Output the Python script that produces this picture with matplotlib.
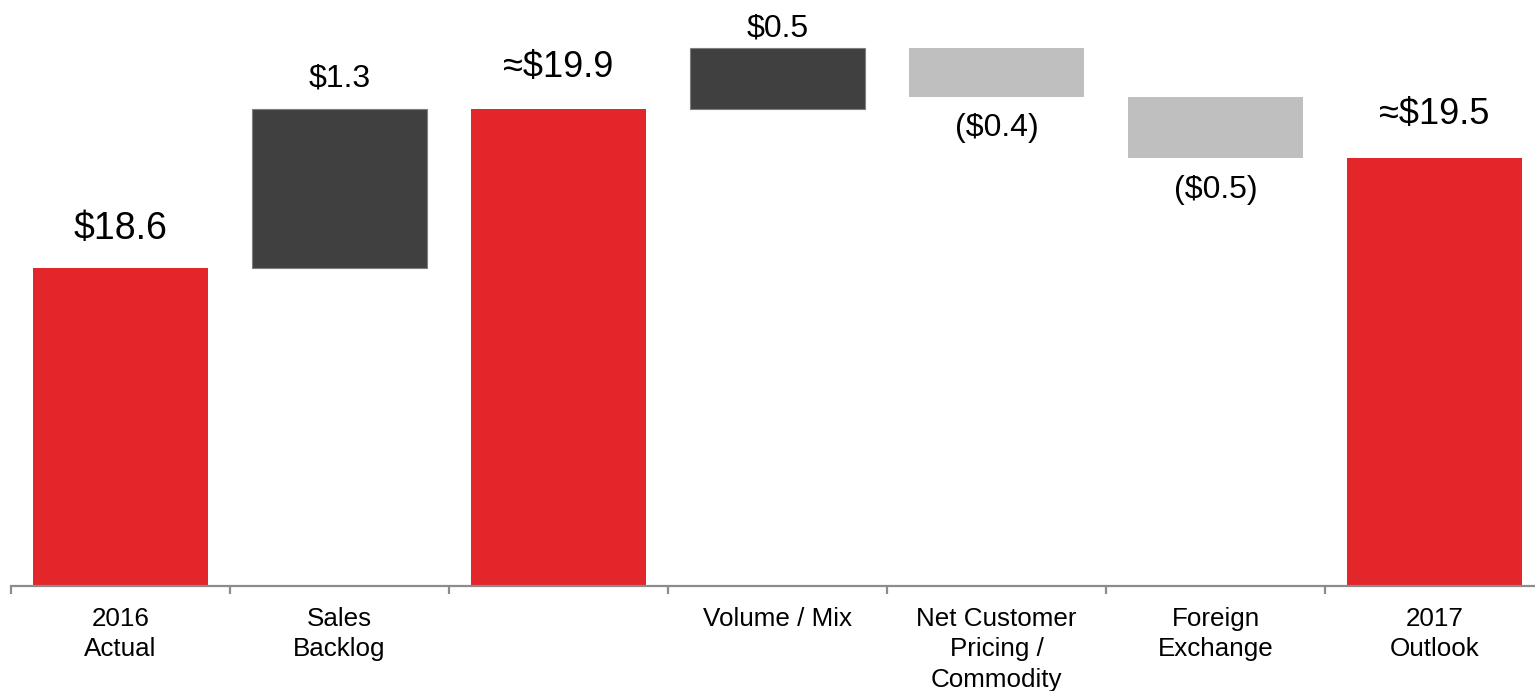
import matplotlib.pyplot as plt

plt.rcParams['font.family'] = ['Liberation Sans', 'DejaVu Sans']

# data
categories = ['2016\nActual', 'Sales\nBacklog', '', 'Volume / Mix',
              'Net Customer\nPricing /\nCommodity', 'Foreign\nExchange', '2017\nOutlook']
values = [18.6, 1.3, 19.9, 0.5, -0.4, -0.5, 19.5]
is_total = [True, False, True, False, False, False, True]
value_labels = ['$18.6', '$1.3', '\u2248$19.9', '$0.5', '($0.4)', '($0.5)', '\u2248$19.5']

# style per label: font size (pt) and baseline gap from bar edge (px)
label_sizes = [27, 23, 26, 23, 23, 23, 26]
label_gaps = [29, 23, 32, 12, 39, 40, 34]

RED = '#E3262A'
DARK = '#404040'
LIGHT = '#BFBFBF'

# waterfall bottoms / heights
bottoms, heights, colors = [], [], []
running = 0.0
for v, tot in zip(values, is_total):
    if tot:
        bottoms.append(0)
        heights.append(v)
        colors.append(RED)
        running = v
    else:
        if v >= 0:
            bottoms.append(running)
            heights.append(v)
            colors.append(DARK)
        else:
            bottoms.append(running + v)
            heights.append(-v)
            colors.append(LIGHT)
        running += v

fig = plt.figure(figsize=(15.35, 6.91), dpi=100)
ax = fig.add_axes([11 / 1535, 1 - 586 / 691, 1533 / 1535, 586 / 691])

x = list(range(len(categories)))
for i in x:
    edge = '#7f7f7f' if colors[i] == DARK else colors[i]
    ax.bar(i, heights[i], bottom=bottoms[i], width=0.8, color=colors[i],
           edgecolor=edge, linewidth=0.8 if colors[i] == DARK else 0)

ax.set_xlim(-0.5, len(categories) - 0.5)
ax.set_ylim(16, 16 + 586 / 122.2)

# value labels
px = 72 / 100
for i in x:
    top = bottoms[i] + heights[i]
    if is_total[i] or values[i] >= 0:
        ax.annotate(value_labels[i], (i, top), xytext=(0, label_gaps[i] * px),
                    textcoords='offset points', ha='center', va='baseline',
                    fontsize=label_sizes[i], color='black', annotation_clip=False)
    else:
        ax.annotate(value_labels[i], (i, bottoms[i]), xytext=(0, -label_gaps[i] * px),
                    textcoords='offset points', ha='center', va='baseline',
                    fontsize=label_sizes[i], color='black', annotation_clip=False)

# axes styling
for s in ['top', 'right', 'left']:
    ax.spines[s].set_visible(False)
ax.spines['bottom'].set_color('#8c8c8c')
ax.spines['bottom'].set_linewidth(1.6)
ax.set_yticks([])
ax.set_xticks(x)
ax.set_xticklabels(categories, fontsize=18.7, linespacing=1.34)
ax.tick_params(axis='x', which='major', length=0, pad=15)
ax.set_xticks([i - 0.5 for i in range(len(categories) + 1)], minor=True)
ax.tick_params(axis='x', which='minor', length=6, width=1.6, color='#8c8c8c', direction='out')

fig.savefig('out.png', dpi=100)
